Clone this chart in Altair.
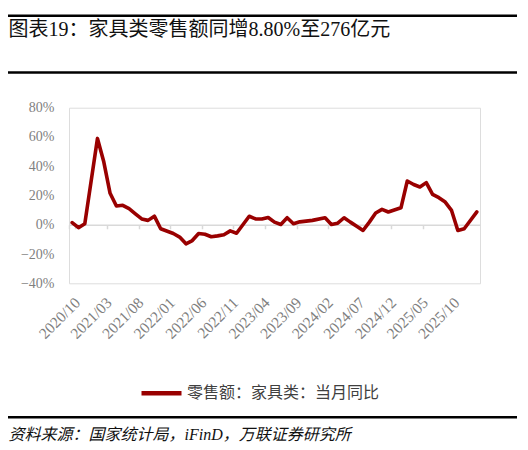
import altair as alt
import pandas as pd

# ---------------- data ----------------
months = []
for y in range(2020, 2027):
    for m in range(1, 13):
        if (y == 2020 and m < 10) or (y == 2026 and m > 2):
            continue
        months.append(f"{y}/{m:02d}")

# 零售额:家具类:当月同比 (%), January not published (None)
values = [
    1.5, -2.0, 0.7,                                              # 2020/10-12
    None, 59.0, 43.0, 21.5, 12.8, 13.3, 11.0, 7.5, 4.0, 3.0, 5.9, -2.7,   # 2021
    None, -6.0, -8.4, -13.0, -10.8, -6.0, -6.5, -8.2, -7.6, -6.8, -4.2, -5.8,  # 2022
    None, 5.8, 4.0, 3.9, 5.0, 1.8, 0.2, 4.8, 0.7, 2.0, 2.5, 3.0,    # 2023
    None, 4.8, 0.2, 1.1, 4.8, 1.8, -1.0, -3.9, 1.8, 8.0, 10.5, 8.7,  # 2024
    None, 11.6, 29.9, 27.5, 25.8, 28.8, 20.8, 18.5, 15.5, 9.8, -3.9, -2.7,  # 2025
    None, 8.8,                                                   # 2026/01-02
]

label_months = ["2020/10", "2021/03", "2021/08", "2022/01", "2022/06", "2022/11",
                "2023/04", "2023/09", "2024/02", "2024/07", "2024/12", "2025/05", "2025/10"]
y_ticks = [-40, -20, 0, 20, 40, 60, 80]

series_name = "零售额：家具类：当月同比"
title_text = "图表19：家具类零售额同增8.80%至276亿元"
source_text = "资料来源：国家统计局，iFinD，万联证券研究所"

df = pd.DataFrame({"month": months, "value": values, "series": series_name})

# ---------------- layout ----------------
W, H = 411, 175.6
PAD_L, PAD_T = 61, 99.7
PAD_R = 512 - PAD_L - W
PAD_B = 434 - PAD_T - H

SERIF_CJK = "Liberation Serif, Noto Sans CJK SC"
RED = "#990000"

line = alt.Chart(df).transform_filter("isValid(datum.value)").mark_line(
    strokeWidth=3.6, strokeJoin="round", strokeCap="round"
).encode(
    x=alt.X(
        "month:O",
        bandPosition=0.5,
        scale=alt.Scale(type="band", domain=months, paddingInner=0, paddingOuter=0),
        axis=alt.Axis(
            values=label_months,
            title=None,
            labelAngle=-45,
            labelAlign="right",
            labelBaseline="top",
            tickBand="extent",
            offset=-H / 3,
            domainColor="#d9d9d9",
            domainWidth=1.5,
            tickColor="#d9d9d9",
            tickWidth=1.5,
            tickSize=4,
            labelPadding=66,
            labelFont="Liberation Serif",
            labelFontSize=15.5,
            labelColor="#7f7f7f",
            labelOverlap=False,
            labelFlush=False,
            grid=False,
        ),
    ),
    y=alt.Y(
        "value:Q",
        scale=alt.Scale(domain=[-40, 80], nice=False, zero=False),
        axis=alt.Axis(
            values=y_ticks,
            title=None,
            labelExpr="format(datum.value, 'd') + '%'",
            domain=False,
            ticks=False,
            tickSize=0,
            grid=False,
            labelPadding=15,
            labelFont="Liberation Serif",
            labelFontSize=14,
            labelColor="#7f7f7f",
        ),
    ),
    color=alt.Color(
        "series:N",
        scale=alt.Scale(range=[RED]),
        legend=alt.Legend(
            orient="none",
            legendX=70,
            legendY=263,
            title=None,
            padding=0,
            symbolType="stroke",
            symbolSize=1600,
            symbolStrokeWidth=4.5,
            labelFont=SERIF_CJK,
            labelFontSize=16,
            labelColor="#404040",
            labelOffset=3,
            labelLimit=400,
        ),
    ),
)

# decorative horizontal frame lines
frame_df = pd.DataFrame({"name": ["top", "mid", "bottom"]})
frame_y = {"top": (-93.2, -90.7), "mid": (-36.5, -34.0), "bottom": (308.2, 310.7)}

def hband(name):
    y0, y1 = frame_y[name]
    return alt.Chart(frame_df).transform_filter(
        alt.datum.name == name
    ).mark_rect(color="black").encode(
        x=alt.value(-61), x2=alt.value(448), y=alt.value(y0), y2=alt.value(y1)
    )

text_df = pd.DataFrame({"k": [0]})

title = alt.Chart(text_df).mark_text(
    align="left", baseline="middle", font=SERIF_CJK, fontSize=20, color="#111111"
).encode(x=alt.value(-60.5), y=alt.value(-78.0), text=alt.value(title_text))

source = alt.Chart(text_df).mark_text(
    align="left", baseline="middle", font=SERIF_CJK, fontSize=16, fontStyle="italic", color="#111111"
).encode(x=alt.value(-60.5), y=alt.value(327), text=alt.value(source_text))

chart = alt.layer(
    hband("top"), hband("mid"), hband("bottom"), line, title, source
).properties(
    width=W, height=H,
    padding={"left": PAD_L, "top": PAD_T, "right": PAD_R, "bottom": PAD_B},
    autosize=alt.AutoSizeParams(type="none"),
).configure_view(strokeWidth=0).configure(background="white")

chart.save("out.html", embed_options={"renderer": "svg", "actions": False})
